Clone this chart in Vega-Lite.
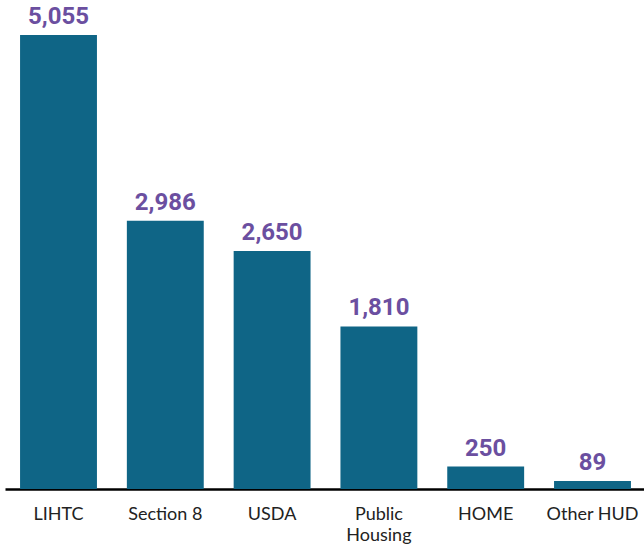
{
  "$schema": "https://vega.github.io/schema/vega-lite/v6.json",
  "autosize": "none",
  "width": 641,
  "height": 479,
  "padding": {"left": 5, "top": 10, "right": 0, "bottom": 58},
  "background": "white",
  "config": {"view": {"stroke": null}},
  "data": {
    "values": [
      {"program": "LIHTC", "units": 5055},
      {"program": "Section 8", "units": 2986},
      {"program": "USDA", "units": 2650},
      {"program": "Public Housing", "units": 1810},
      {"program": "HOME", "units": 250},
      {"program": "Other HUD", "units": 89}
    ]
  },
  "encoding": {
    "x": {
      "field": "program",
      "type": "nominal",
      "sort": null,
      "scale": {"paddingInner": 0.28, "paddingOuter": 0.141},
      "axis": {
        "title": null,
        "ticks": false,
        "labelAngle": 0,
        "labelPadding": 16,
        "labelFont": "Lato",
        "labelFontSize": 18,
        "labelColor": "#222222",
        "labelLineHeight": 21,
        "labelExpr": "datum.value == 'Public Housing' ? ['Public', 'Housing'] : datum.value",
        "domainColor": "#000000",
        "domainWidth": 2.5
      }
    },
    "y": {
      "field": "units",
      "type": "quantitative",
      "scale": {"domain": [0, 5334], "nice": false},
      "axis": null
    }
  },
  "layer": [
    {"mark": {"type": "bar", "color": "#0f6586"}},
    {
      "mark": {
        "type": "text",
        "baseline": "bottom",
        "dy": -6,
        "font": "Liberation Sans Narrow, Roboto",
        "fontWeight": "bold",
        "fontSize": 24,
        "color": "#6b4fa0"
      },
      "encoding": {"text": {"field": "units", "type": "quantitative", "format": ","}}
    }
  ]
}
